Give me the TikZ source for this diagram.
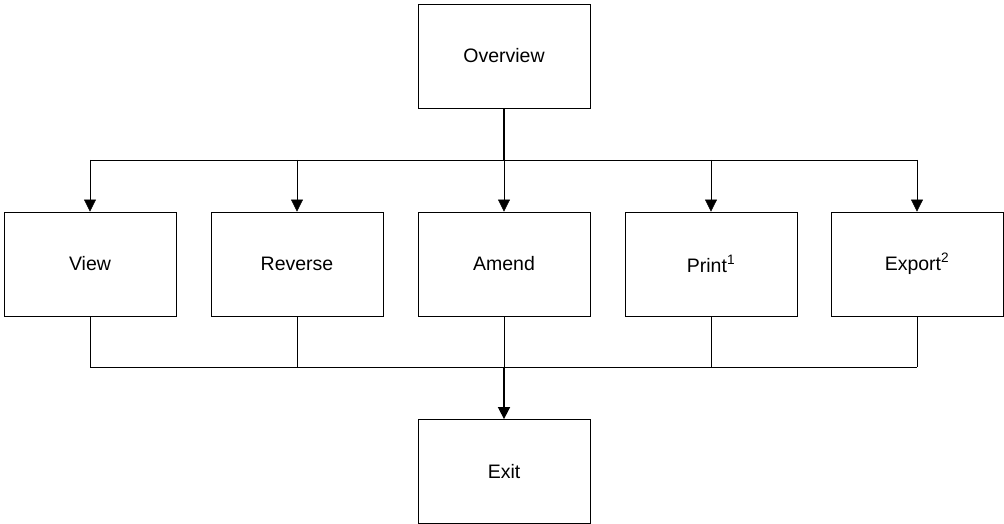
\documentclass[tikz,border=0pt]{standalone}
\usepackage{fontspec}
\setmainfont{Liberation Sans}
\usetikzlibrary{arrows.meta}
\begin{document}
\begin{tikzpicture}[x=1pt,y=-1pt,
  box/.style={draw,line width=0.8pt,minimum width=172pt,minimum height=104pt,inner sep=0pt,font=\fontsize{19.5}{22}\selectfont},
  >={Triangle[length=12pt,width=12pt]}]
\useasboundingbox (0,0) rectangle (1004,524);
\node[box] (ov) at (504,56) {Overview};
\foreach \n/\t/\x in {view/View/90,rev/Reverse/297,amend/Amend/504,print/Print\textsuperscript{1}/711,export/Export\textsuperscript{2}/917}{
\node[box] (\n) at (\x,264) {\t};
}
\node[box] (exit) at (504,471.5) {Exit};
\coordinate (top) at (504,160);
\coordinate (bot) at (504,367);
\draw[line width=1.6pt] (ov.south) -- (top);
\draw (view.north |- top) -- (export.north |- top);
\foreach \n in {view,rev,amend,print,export}{
\draw[->] (\n.north |- top) -- (\n.north);
\draw (\n.south) -- (\n.south |- bot);
}
\draw (view.south |- bot) -- (export.south |- bot);
\draw[->,line width=1.6pt] (bot) -- (exit.north);
\end{tikzpicture}
\end{document}
